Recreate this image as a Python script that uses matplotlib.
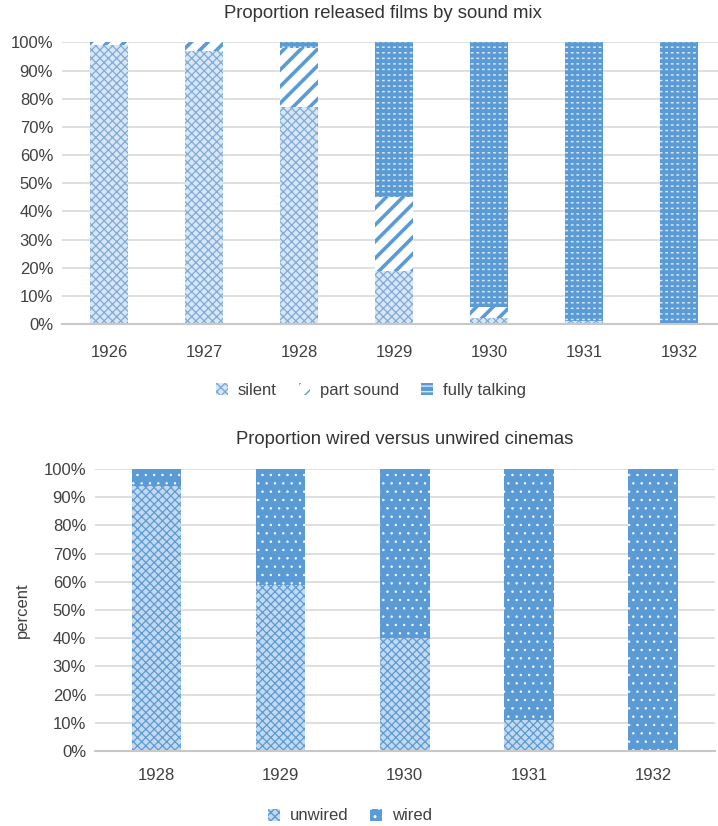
import matplotlib
matplotlib.use("Agg")
import matplotlib.pyplot as plt
import numpy as np
from matplotlib.ticker import PercentFormatter

plt.rcParams['font.family'] = ['Liberation Sans', 'DejaVu Sans']

# --- data -------------------------------------------------------------
years_films = ['1926', '1927', '1928', '1929', '1930', '1931', '1932']
silent = [99, 97, 77, 19, 2, 1, 0]
part_sound = [1, 3, 21, 26, 4, 0, 0]
fully_talking = [0, 0, 2, 55, 94, 99, 100]

years_cinemas = ['1928', '1929', '1930', '1931', '1932']
unwired = [94, 59, 40, 11, 0]
wired = [6, 41, 60, 89, 100]

film_labels = ['silent', 'part sound', 'fully talking']
cinema_labels = ['unwired', 'wired']
title_films = 'Proportion released films by sound mix'
title_cinemas = 'Proportion wired versus unwired cinemas'

BLUE = '#5b9bd5'
TXT = '#404040'
GRID = '#d9d9d9'
FS = 12

W, H = 718, 826
fig = plt.figure(figsize=(W / 100, H / 100), dpi=100)


def px_axes(left, top, right, bottom):
    return fig.add_axes([left / W, 1 - bottom / H, (right - left) / W, (bottom - top) / H])


def style_axes(ax, n, xpad):
    ax.set_ylim(0, 100)
    ax.set_xlim(-0.5, n - 0.5)
    ax.set_yticks(np.arange(0, 101, 10))
    ax.yaxis.set_major_formatter(PercentFormatter(decimals=0))
    ax.grid(axis='y', color=GRID, lw=1.2)
    ax.set_axisbelow(True)
    for s in ('top', 'right', 'left'):
        ax.spines[s].set_visible(False)
    ax.spines['bottom'].set_color('#c8c8c8')
    ax.spines['bottom'].set_linewidth(1.5)
    ax.tick_params(length=0, labelsize=FS, colors=TXT)
    ax.tick_params(axis='x', pad=xpad)
    ax.tick_params(axis='y', pad=6)


def hatched_bar(ax, x, h, bottom, face, hatch, hcolor, hlw, width=0.4, label=None):
    with plt.rc_context({'hatch.linewidth': hlw}):
        return ax.bar(x, h, width, bottom=bottom, color=face, edgecolor=hcolor,
                      linewidth=0, hatch=hatch, label=label)


def dashed_bar(ax, x, h, bottom, width=0.4, label=None):
    # blue body with rows of short light dashes
    c = hatched_bar(ax, x, h, bottom, BLUE, '---', '#d6e6f6', 1.1, width, label)
    with plt.rc_context({'hatch.linewidth': 2.0}):
        ax.bar(x, h, width, bottom=bottom, color='none', edgecolor=BLUE,
               linewidth=0, hatch='|||')
    return c


# --- top chart: films by sound mix -------------------------------------
ax1 = px_axes(61.5, 42.5, 726.5, 324)
x1 = np.arange(len(years_films))
b_sil = np.zeros(len(x1))
c1 = hatched_bar(ax1, x1, silent, b_sil, '#d8e6f5', 'xxxx', '#7fabd9', 0.9, label=film_labels[0])
b_part = np.array(silent, dtype=float)
c2 = hatched_bar(ax1, x1, part_sound, b_part, 'white', '//', BLUE, 2.6, label=film_labels[1])
b_talk = b_part + np.array(part_sound)
c3 = dashed_bar(ax1, x1, fully_talking, b_talk, label=film_labels[2])
style_axes(ax1, len(x1), 15)
ax1.set_xticks(x1, years_films)

fig.text(383 / W, 1 - 13 / H, title_films, ha='center', va='center', fontsize=13.3, color='#333333')
fig.legend([c1, c2, c3], film_labels, loc='center', bbox_to_anchor=(371 / W, 1 - 390 / H),
           ncol=3, frameon=False, fontsize=FS, handlelength=0.7, handleheight=0.7,
           handletextpad=0.6, columnspacing=1.3, labelcolor=TXT)

# --- bottom chart: wired vs unwired cinemas ----------------------------
ax2 = px_axes(94.5, 469, 715, 751)
x2 = np.arange(len(years_cinemas))
d1 = hatched_bar(ax2, x2, unwired, np.zeros(len(x2)), '#c3d9ef', 'xxxx', BLUE, 0.9, label=cinema_labels[0])
d2 = hatched_bar(ax2, x2, wired, np.array(unwired, dtype=float), BLUE, '..', 'white', 0.5, label=cinema_labels[1])
style_axes(ax2, len(x2), 12)
ax2.set_xticks(x2, years_cinemas)
ax2.set_ylabel('percent', fontsize=FS, color=TXT, labelpad=10)

fig.text(405 / W, 1 - 440 / H, title_cinemas, ha='center', va='center', fontsize=13.3, color='#333333')
fig.legend([d1, d2], cinema_labels, loc='center', bbox_to_anchor=(350 / W, 1 - 816 / H),
           ncol=2, frameon=False, fontsize=FS, handlelength=0.7, handleheight=0.7,
           handletextpad=0.6, columnspacing=1.3, labelcolor=TXT)

fig.savefig('out.png', dpi=100)
